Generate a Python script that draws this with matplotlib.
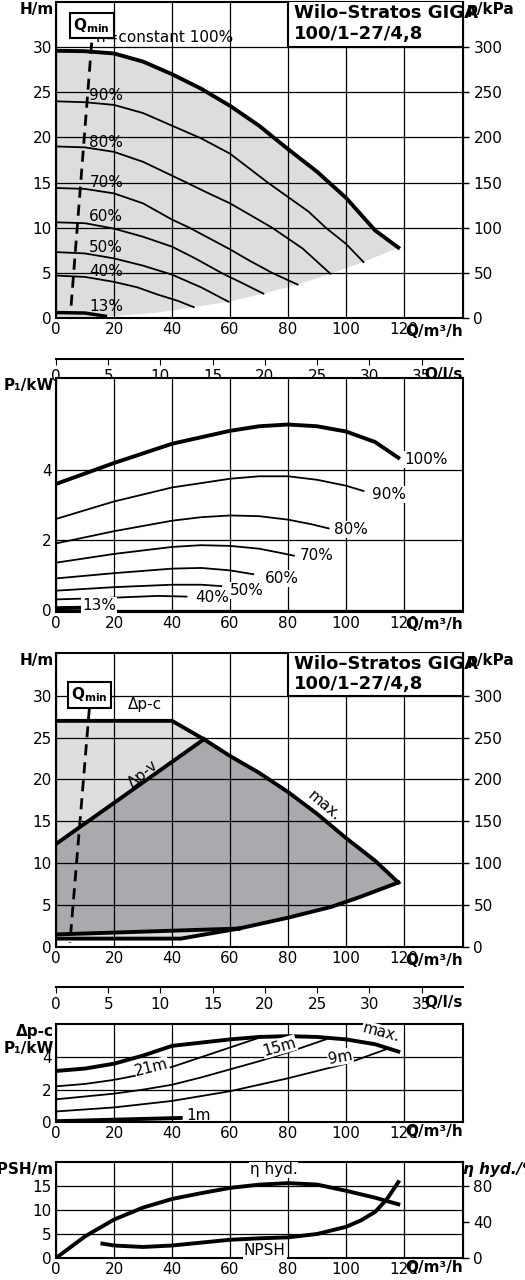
import numpy as np
import matplotlib
matplotlib.use("Agg")
import matplotlib.pyplot as plt
from matplotlib.patches import Rectangle, Polygon

plt.rcParams['font.family'] = ['Liberation Sans Narrow', 'DejaVu Sans']
plt.rcParams['font.size'] = 10.5

LIGHT = "#dcdddf"
DARK = "#a9aaad"
XMAX = 140.3

# --- panel 1: H/Q at different speeds ---
h100_q = [0, 10, 20, 30, 40, 50, 60, 70, 80, 90, 100, 110, 118]
h100_h = [29.6, 29.55, 29.3, 28.4, 27.0, 25.4, 23.5, 21.3, 18.7, 16.2, 13.3, 9.7, 7.8]
speed_curves = {
    "90%": ([0, 10, 20, 30, 40, 50, 60, 73, 80, 87, 93, 100, 106],
            [24.0, 23.9, 23.6, 22.7, 21.3, 19.9, 18.2, 15.0, 13.4, 11.8, 10.0, 8.2, 6.2]),
    "80%": ([0, 10, 20, 30, 45, 52, 60, 67, 74.5, 85, 94.6],
            [19.0, 18.9, 18.4, 17.3, 15.0, 13.9, 12.7, 11.4, 10.0, 7.7, 4.9]),
    "70%": ([0, 10, 20, 30, 40, 46, 53, 60, 67, 74.5, 83.3],
            [14.4, 14.3, 13.8, 12.7, 10.9, 10.0, 8.8, 7.6, 6.3, 5.0, 3.7]),
    "60%": ([0, 10, 20, 30, 40, 48, 57, 64, 71.5],
            [10.6, 10.5, 9.9, 9.0, 7.9, 6.6, 5.0, 3.9, 2.7]),
    "50%": ([0, 10, 20, 30, 40, 50, 59.5], [7.3, 7.15, 6.6, 5.8, 4.8, 3.4, 1.8]),
    "40%": ([0, 10, 20, 28, 35, 42, 47.5], [4.7, 4.55, 4.0, 3.4, 2.6, 1.9, 1.2]),
    "13%": ([0, 10, 17], [0.6, 0.55, 0.2]),
}
label_h = {"90%": 24.6, "80%": 19.4, "70%": 15.0, "60%": 11.2, "50%": 7.8, "40%": 5.1, "13%": 1.3}
lower_q = [0, 20, 35, 47.5, 59.5, 71.5, 83.3, 94.6, 106, 118]
lower_h = [0, 0.2, 0.6, 1.2, 1.8, 2.7, 3.7, 4.9, 6.2, 7.8]
qmin1_q = [12.3, 5.0]
qmin1_h = [30.5, 0.5]

# --- panel 2: P1 at different speeds ---
p_curves = {
    "100%": ([0, 20, 40, 60, 70, 80, 90, 100, 110, 118], [3.6, 4.2, 4.75, 5.12, 5.25, 5.3, 5.25, 5.1, 4.8, 4.35]),
    "90%": ([0, 20, 40, 60, 70, 80, 90, 100, 106], [2.6, 3.1, 3.5, 3.75, 3.82, 3.82, 3.72, 3.55, 3.4]),
    "80%": ([0, 20, 40, 50, 60, 70, 80, 88, 94], [1.9, 2.25, 2.55, 2.65, 2.7, 2.68, 2.58, 2.45, 2.33]),
    "70%": ([0, 20, 40, 50, 60, 70, 78, 82], [1.35, 1.6, 1.8, 1.85, 1.83, 1.75, 1.62, 1.55]),
    "60%": ([0, 20, 40, 50, 60, 68], [0.9, 1.05, 1.18, 1.2, 1.13, 1.02]),
    "50%": ([0, 20, 40, 50, 57], [0.55, 0.65, 0.72, 0.72, 0.68]),
    "40%": ([0, 20, 35, 45], [0.3, 0.35, 0.4, 0.38]),
    "13%": ([0, 17], [0.05, 0.07]),
}
p_label_pos = {"100%": (120, 4.3), "90%": (109, 3.3), "80%": (96, 2.3), "70%": (84, 1.55),
               "60%": (72, 0.9), "50%": (60, 0.55), "40%": (48, 0.35), "13%": (9, 0.12)}

# --- panel 3: control modes ---
dpc_q = [0, 40, 51]
dpc_h = [27, 27, 24.8]
dpv_q = [0, 51]
dpv_h = [12.3, 24.8]
max_q = [51, 60, 70, 80, 90, 100, 110, 118]
max_h = [24.8, 22.8, 20.8, 18.5, 15.9, 13.0, 10.3, 7.7]
low_q = [118, 105, 95, 80, 63]
low_h = [7.7, 6.0, 4.8, 3.5, 2.2]
bot1_q = [0, 63]
bot1_h = [1.5, 2.2]
bot2_q = [0, 43, 63]
bot2_h = [1.0, 1.0, 2.2]
qmin3_q = [11.5, 4.8]
qmin3_h = [28.5, 0.5]

# --- panel 4: P1 for delta-p-c ---
dp_curves = {
    "max.": ([0, 10, 20, 30, 40, 60, 70, 80, 90, 100, 110, 118], [3.15, 3.3, 3.6, 4.1, 4.7, 5.1, 5.25, 5.3, 5.25, 5.1, 4.8, 4.35]),
    "21m": ([0, 10, 20, 30, 40, 50, 60, 70], [2.2, 2.35, 2.6, 2.95, 3.4, 4.0, 4.6, 5.2]),
    "15m": ([0, 20, 30, 40, 50, 60, 70, 80, 93], [1.4, 1.75, 2.0, 2.3, 2.75, 3.25, 3.75, 4.3, 5.1]),
    "9m": ([0, 20, 40, 50, 60, 70, 80, 90, 100, 114], [0.65, 0.9, 1.3, 1.6, 1.9, 2.3, 2.7, 3.15, 3.6, 4.5]),
    "1m": ([0, 43], [0.05, 0.25]),
}

# --- panel 5: NPSH and efficiency ---
eta_q = [0, 10, 20, 30, 40, 50, 60, 70, 80, 90, 100, 110, 118]
eta_pct = [0, 24, 42.7, 56, 65.6, 72, 77.9, 81.5, 83.2, 81.6, 74.7, 67, 59.7]
npsh_q = [16, 20, 30, 40, 50, 60, 70, 80, 90, 100, 105, 110, 114, 118]
npsh_m = [3.0, 2.6, 2.3, 2.6, 3.2, 3.8, 4.1, 4.3, 5.0, 6.5, 7.8, 9.6, 12.2, 15.8]

W, H = 525, 1280
fig = plt.figure(figsize=(5.25, 12.8), dpi=100)
L, R = 56 / W, 463 / W


def make_ax(top, bottom):
    return fig.add_axes([L, 1 - bottom / H, R - L, (bottom - top) / H])


def style(ax, ylim, ystep, ylabel):
    ax.set_xlim(0, XMAX)
    ax.set_ylim(*ylim)
    ax.set_xticks(range(0, 121, 20))
    ax.set_yticks(np.arange(0, ylim[1] + 0.01, ystep))
    ax.grid(True, color="black", lw=0.9)
    ax.set_axisbelow(False)
    ax.tick_params(length=0, labelsize=11, pad=3)
    for s in ax.spines.values():
        s.set_linewidth(1.5)
    ax.text(-0.005, 1.0, ylabel, transform=ax.transAxes, ha="right", va="top",
            fontweight="bold", fontsize=11)
    ax.text(1.0, -0.02, "Q/m³/h", transform=ax.transAxes, ha="right", va="top",
            fontweight="bold", fontsize=11)


def kpa(ax):
    sec = ax.secondary_yaxis("right", functions=(lambda h: h * 10, lambda p: p / 10))
    sec.set_yticks(range(0, 301, 50))
    sec.tick_params(length=4, width=1, labelsize=11)
    ax.text(1.01, 1.0, "p/kPa", transform=ax.transAxes, ha="left", va="top",
            fontweight="bold", fontsize=11)


def title_box(ax):
    ax.add_patch(Rectangle((80, 30), XMAX - 80, 5.2, fc="white", ec="black", lw=1.5, zorder=4))
    ax.text(82, 32.6, "Wilo–Stratos GIGA\n100/1–27/4,8", fontsize=13, fontweight="bold",
            va="center", ha="left", zorder=5, linespacing=1.2)


def ls_axis(y):
    a = fig.add_axes([L, 1 - y / H, R - L, 0.0001])
    a.set_xlim(0, XMAX / 3.6)
    a.set_yticks([])
    for s in ["left", "right", "top"]:
        a.spines[s].set_visible(False)
    a.spines["bottom"].set_linewidth(1.5)
    a.set_xticks(range(0, 36, 5))
    a.tick_params(length=4, labelsize=11)
    a.annotate("Q/l/s", xy=(1.0, 0), xycoords="axes fraction", xytext=(0, -6),
               textcoords="offset points", ha="right", va="top", fontweight="bold", fontsize=11)


# panel 1
ax1 = make_ax(2, 318)
style(ax1, (0, 35), 5, "H/m")
ax1.set_yticks(range(0, 31, 5))
ax1.add_patch(Polygon(list(zip(h100_q, h100_h)) + list(zip(lower_q, lower_h))[::-1],
                      fc=LIGHT, ec="none", zorder=0.5))
ax1.plot(h100_q, h100_h, color="black", lw=2.8, zorder=3)
for name, (q, h) in speed_curves.items():
    ax1.plot(q, h, color="black", lw=2.5 if name == "13%" else 1.3, zorder=3)
    ax1.text(11.5, label_h[name], name, fontsize=11, ha="left", va="center", zorder=3)
ax1.plot(qmin1_q, qmin1_h, color="black", lw=2, ls=(0, (4, 2.5)), zorder=3)
ax1.text(12.3, 32.4, r"$\mathbf{Q_{min}}$", fontsize=11, ha="center", va="center", zorder=5,
         bbox=dict(fc="white", ec="black", lw=1.5, pad=2.5))
ax1.text(13.8, 30.2, "n=constant 100%", fontsize=11, ha="left", va="bottom", zorder=3)
title_box(ax1)
kpa(ax1)
ls_axis(359)

# panel 2
ax2 = make_ax(378, 612)
style(ax2, (-0.06, 6.63), 2, "P₁/kW")
ax2.set_yticks([0, 2, 4])
for name, (q, p) in p_curves.items():
    ax2.plot(q, p, color="black", lw=2.8 if name in ("100%", "13%") else 1.3, zorder=3)
    x, y = p_label_pos[name]
    ax2.text(x, y, name, fontsize=11, ha="left", va="center", zorder=3,
             bbox=dict(fc="white", ec="none", pad=0.5))

# panel 3
ax3 = make_ax(653, 947)
style(ax3, (0, 35.1), 5, "H/m")
ax3.set_yticks(range(0, 31, 5))
ax3.add_patch(Polygon(list(zip(dpc_q, dpc_h)) + [(0, 12.3)], fc=LIGHT, ec="none", zorder=0.5))
ax3.add_patch(Polygon(list(zip(bot2_q, bot2_h)) + list(zip(bot1_q, bot1_h))[::-1], fc=LIGHT, ec="none", zorder=0.5))
dark_poly = list(zip(dpv_q, dpv_h)) + list(zip(max_q, max_h)) + list(zip(low_q, low_h)) + list(zip(bot1_q, bot1_h))[::-1]
ax3.add_patch(Polygon(dark_poly, fc=DARK, ec="none", zorder=0.5))
for q, h in [(dpc_q, dpc_h), (dpv_q, dpv_h), (max_q, max_h), (low_q, low_h), (bot1_q, bot1_h), (bot2_q, bot2_h)]:
    ax3.plot(q, h, color="black", lw=2.8, zorder=3)
ax3.plot(qmin3_q, qmin3_h, color="black", lw=2, ls=(0, (4, 2.5)), zorder=3)
ax3.text(11.5, 30.1, r"$\mathbf{Q_{min}}$", fontsize=11, ha="center", va="center", zorder=5,
         bbox=dict(fc="white", ec="black", lw=1.5, pad=2.5))
ax3.text(30.5, 28.0, "Δp-c", fontsize=11, ha="center", va="bottom", zorder=3)
ax3.text(30, 20.6, "Δp-v", fontsize=11, ha="center", va="center", rotation=40, zorder=3)
ax3.text(92.5, 16.8, "max.", fontsize=11, ha="center", va="center", rotation=-40, zorder=3)
title_box(ax3)
kpa(ax3)
ls_axis(987)

# panel 4
ax4 = make_ax(1024, 1122)
style(ax4, (0, 6.05), 2, "Δp-c\nP₁/kW")
ax4.set_yticks([0, 2, 4])
for name, (q, p) in dp_curves.items():
    ax4.plot(q, p, color="black", lw=2.8 if name in ("max.", "1m") else 1.3, zorder=3)
for txt, x, y, rot in [("21m", 33, 3.35, 14), ("15m", 77, 4.65, 16), ("9m", 98, 4.0, 10),
                       ("max.", 112, 5.5, -15)]:
    ax4.text(x, y, txt, fontsize=11, ha="center", va="center", rotation=rot, zorder=4,
             bbox=dict(fc="white", ec="none", pad=0.3))
ax4.text(45, 0.4, "1m", fontsize=11, ha="left", va="center", zorder=4)

# panel 5
ax5 = make_ax(1162, 1258)
style(ax5, (0, 20), 5, "NPSH/m")
ax5.set_yticks(range(0, 16, 5))
ax5.plot(eta_q, np.array(eta_pct) * 15 / 80, color="black", lw=2.8, zorder=3)
ax5.plot(npsh_q, npsh_m, color="black", lw=2.8, zorder=3)
sec5 = ax5.secondary_yaxis("right", functions=(lambda m: m * 80 / 15, lambda e: e * 15 / 80))
sec5.set_yticks([0, 40, 80])
sec5.tick_params(length=4, width=1, labelsize=11)
ax5.text(1.0, 1.0, "η hyd./%", transform=ax5.transAxes, ha="left", va="top",
         fontweight="bold", fontstyle="italic", fontsize=11)
ax5.text(75, 16.8, "η hyd.", fontsize=11, ha="center", va="bottom", zorder=4,
         bbox=dict(fc="white", ec="none", pad=0.5))
ax5.text(72, 1.6, "NPSH", fontsize=11, ha="center", va="center", zorder=4,
         bbox=dict(fc="white", ec="none", pad=0.5))

fig.savefig("out.png", dpi=100)
